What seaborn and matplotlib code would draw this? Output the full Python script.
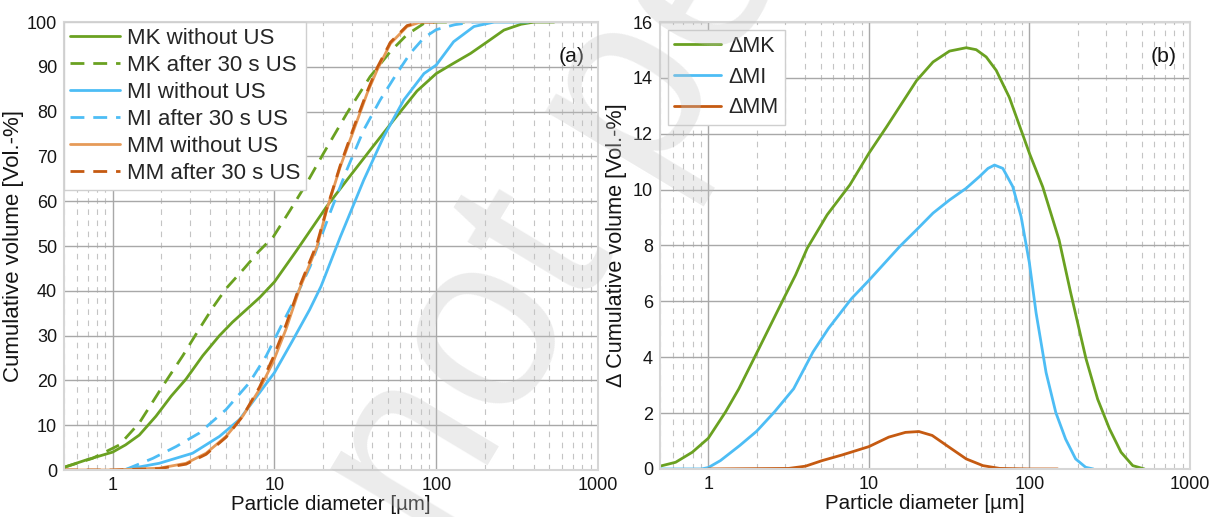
import matplotlib
matplotlib.use("Agg")
import matplotlib.pyplot as plt
import seaborn as sns
from matplotlib.ticker import FixedLocator, FuncFormatter, NullFormatter

# ---- cumulative particle size distributions, diameter [µm] -> volume [Vol.-%] ----
mk_wo_d = [0.5, 0.68, 1.0, 1.2, 1.46, 1.85, 2.3, 2.84, 3.6, 4.57, 5.5, 6.7, 8.1, 10, 13.7,
           21, 28, 39, 54.5, 76, 100, 128, 163, 207, 262, 334, 404, 535]
mk_wo_v = [0.6, 2.2, 4.0, 5.6, 7.8, 12, 16.5, 20.3, 25.5, 30, 33, 35.8, 38.5, 42, 49,
           58.8, 64.7, 71.4, 78.1, 84.6, 88.5, 90.8, 93, 95.6, 98.2, 99.5, 100, 100]

mk_us_d = [0.5, 0.75, 1.1, 1.46, 2.04, 2.71, 3.43, 4.2, 5.02, 6.5, 8.0, 9.85, 12.5,
           15.8, 20.1, 28, 39, 52, 66, 84, 100, 150]
mk_us_v = [0.6, 2.6, 5.6, 10.5, 18.75, 25.5, 31.5, 36.5, 40.5, 45, 48.8, 52.1, 58,
           64, 70.7, 79.6, 87.8, 93.4, 97.2, 99.7, 100, 100]

mi_wo_d = [1.15, 1.94, 3.12, 4.57, 6.07, 8.08, 10, 12.9, 16.5, 19.4, 25.5, 35.6, 47.3,
           63, 84, 100, 128, 171, 228, 370]
mi_wo_v = [0, 1.5, 3.75, 7.5, 11.25, 17.25, 21.75, 28.8, 35.8, 41, 52, 64.7, 74.4,
           82.6, 88.5, 90.4, 95.6, 99, 100, 100]

mi_us_d = [1.21, 1.77, 2.47, 3.43, 5.02, 7.0, 8.9, 11.3, 13.5, 16.6, 22, 28, 35.6, 45,
           57, 69, 84, 100, 130, 170, 220]
mi_us_v = [0.15, 2.6, 5.25, 8.25, 13.5, 19.5, 25.5, 33, 38.5, 45.4, 57.3, 67, 75.9, 82.6,
           88.5, 93, 96.5, 98.3, 99.4, 100, 100]

mm_wo_d = [0.5, 1.0, 1.94, 2.84, 3.78, 5.02, 6.36, 8.08, 9.78, 11.8, 14.3, 18.3, 21, 25.5,
           30.9, 37.4, 43.1, 52.1, 66, 80, 100]
mm_wo_v = [0, 0, 0.4, 1.5, 3.75, 7.5, 12, 18, 24, 31.5, 40.5, 49.8, 58, 67.7,
           75.9, 84.1, 89.3, 95.2, 99, 100, 100]

mm_us_d = [0.5, 1.0, 1.94, 2.84, 3.78, 5.02, 6.36, 8.08, 9.78, 11.8, 14.3, 18.3, 21, 25.5,
           30.9, 37.4, 43.1, 52.1, 66, 80, 100]
mm_us_v = [0, 0, 0.3, 1.3, 3.5, 7.3, 12, 18.5, 25, 32.5, 41, 50.5, 58.2, 68,
           76.5, 84.5, 89.8, 95.5, 99.2, 100, 100]

# ---- difference curves (after US minus without US) ----
dmk_d = [0.5, 0.626, 0.795, 1.0, 1.28, 1.55, 1.97, 2.89, 3.5, 4.13, 5.5, 7.62, 10, 12.9,
         19.8, 25.1, 31.8, 40.4, 46.6, 53.8, 62.1, 75, 100, 121, 153, 180, 225, 266,
         315, 372, 440, 520]
dmk_v = [0.1, 0.24, 0.6, 1.1, 2.04, 2.87, 4.07, 6.0, 6.95, 7.9, 9.1, 10.17, 11.3, 12.25,
         13.9, 14.57, 14.96, 15.08, 15.01, 14.75, 14.27, 13.3, 11.3, 10.1, 8.2, 6.35, 3.95,
         2.5, 1.44, 0.6, 0.12, 0]

dmi_d = [0.5, 0.905, 1.0, 1.19, 1.57, 2.0, 2.58, 3.4, 4.49, 5.6, 7.8, 10, 15.6, 19.8,
         25.1, 31.8, 40.4, 48.9, 55.2, 60.6, 68.3, 78.7, 88.7, 100, 110, 127, 146, 168,
         194, 224, 250]
dmi_v = [0, 0, 0.05, 0.3, 0.84, 1.35, 2.04, 2.87, 4.19, 5.03, 6.1, 6.75, 7.97, 8.56,
         9.16, 9.63, 10.05, 10.47, 10.76, 10.88, 10.76, 10.11, 9.04, 7.37, 5.59, 3.45, 2.02,
         1.07, 0.36, 0.06, 0]

dmm_d = [1.0, 3.17, 4.03, 5.12, 6.8, 10, 13.3, 16.9, 20.5, 24.8, 31.8, 40.4, 51.3, 65.2,
         100, 150]
dmm_v = [0, 0.02, 0.1, 0.3, 0.5, 0.8, 1.14, 1.31, 1.34, 1.2, 0.77, 0.36, 0.12, 0.02, 0, 0]

x_ticks = [1, 10, 100, 1000]

GREEN = "#6aa121"
BLUE = "#4dbdf5"
ORANGE_LIGHT = "#e69a58"
ORANGE_DARK = "#c55a11"
DASH = (0, (5, 3.2))
TXT = "#151515"

sns.set_theme(style="white")
plt.rcParams["font.family"] = ["Liberation Sans", "DejaVu Sans"]
plt.rcParams["font.size"] = 13

fig = plt.figure(figsize=(12.19, 5.17), dpi=100)
ax1 = fig.add_axes([0.0525, 0.0909, 0.4381, 0.8665])
ax2 = fig.add_axes([0.5414, 0.0929, 0.4348, 0.8645])


def style_axes(ax, ymax, ystep):
    ax.set_xscale("log")
    ax.set_xlim(0.5, 1000)
    ax.set_ylim(0, ymax)
    ax.xaxis.set_major_locator(FixedLocator(x_ticks))
    ax.xaxis.set_major_formatter(FuncFormatter(lambda v, p: f"{v:g}"))
    minors = [m * 10.0 ** e for e in range(-1, 3) for m in range(2, 10)]
    ax.xaxis.set_minor_locator(FixedLocator(minors))
    ax.xaxis.set_minor_formatter(NullFormatter())
    ax.set_yticks(range(0, ymax + 1, ystep))
    ax.grid(which="major", color="#a8a8a8", lw=1.0, ls="-")
    ax.grid(which="minor", axis="x", color="#c4c4c4", lw=0.8, ls=(0, (5, 5)))
    ax.set_axisbelow(True)
    ax.tick_params(which="both", length=0, labelsize=13, colors=TXT)
    ax.tick_params(axis="y", pad=5)
    ax.tick_params(axis="x", pad=5)
    for s in ax.spines.values():
        s.set_color("#d6d6d6")
        s.set_linewidth(1.5)
    ax.set_xlabel("Particle diameter [\u00b5m]", fontsize=14.8, labelpad=1, color=TXT)


lw = 2.0
series = [
    (mk_wo_d, mk_wo_v, GREEN, "-", "MK without US"),
    (mk_us_d, mk_us_v, GREEN, DASH, "MK after 30 s US"),
    (mi_wo_d, mi_wo_v, BLUE, "-", "MI without US"),
    (mi_us_d, mi_us_v, BLUE, DASH, "MI after 30 s US"),
    (mm_wo_d, mm_wo_v, ORANGE_LIGHT, "-", "MM without US"),
    (mm_us_d, mm_us_v, ORANGE_DARK, DASH, "MM after 30 s US"),
]
for d, v, c, ls, lab in series:
    sns.lineplot(x=d, y=v, ax=ax1, color=c, linestyle=ls, lw=lw, label=lab)

style_axes(ax1, 100, 10)
ax1.set_ylabel("Cumulative volume [Vol.-%]", fontsize=16, labelpad=2, color=TXT)
leg1 = ax1.legend(loc="upper left", bbox_to_anchor=(0, 1), borderaxespad=0,
                  fontsize=16, handlelength=2.25, handletextpad=0.3,
                  labelspacing=0.27, borderpad=0.28, fancybox=False, framealpha=1,
                  edgecolor="#cfcfcf")
leg1.get_frame().set_linewidth(1.0)
ax1.text(0.975, 0.945, "(a)", transform=ax1.transAxes, ha="right", va="top",
         fontsize=15.3, color=TXT)

diffs = [
    (dmk_d, dmk_v, GREEN, "\u0394MK"),
    (dmi_d, dmi_v, BLUE, "\u0394MI"),
    (dmm_d, dmm_v, ORANGE_DARK, "\u0394MM"),
]
for d, v, c, lab in diffs:
    sns.lineplot(x=d, y=v, ax=ax2, color=c, lw=lw, label=lab)

style_axes(ax2, 16, 2)
ax2.set_ylabel("\u0394 Cumulative volume [Vol.-%]", fontsize=15.6, labelpad=4, color=TXT)
leg2 = ax2.legend(loc="upper left", bbox_to_anchor=(0, 1), borderaxespad=0.35,
                  fontsize=15.5, handlelength=2.2, handletextpad=0.35,
                  labelspacing=0.45, borderpad=0.3, fancybox=False, framealpha=1,
                  edgecolor="#cfcfcf")
leg2.get_frame().set_linewidth(1.0)
ax2.text(0.975, 0.945, "(b)", transform=ax2.transAxes, ha="right", va="top",
         fontsize=15.3, color=TXT)

# light diagonal watermark across the figure
fig.text(0.358, -0.067, "not peer-reviewed", rotation=59, rotation_mode="anchor",
         ha="left", va="baseline", fontsize=180, color="#c4c4c4", alpha=0.32,
         zorder=10)

fig.savefig("out.png", dpi=100)
